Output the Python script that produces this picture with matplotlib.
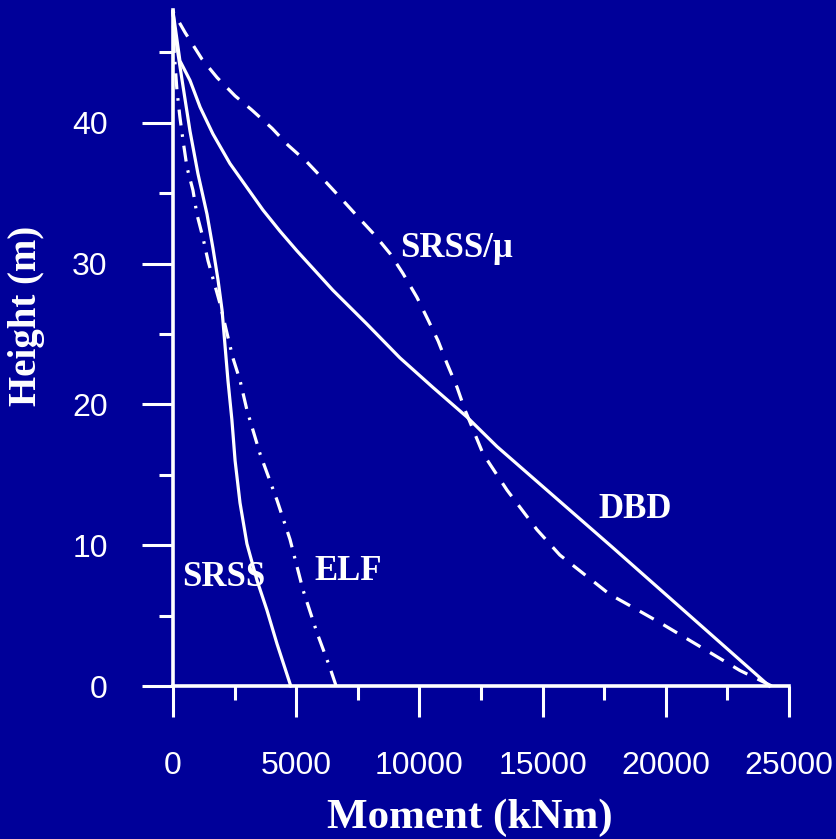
import matplotlib.pyplot as plt

# 弯矩沿高度分布 (kNm, m)
h_dbd = [0, 9.9, 17.0, 19.1, 21.2, 23.3, 25.7, 28.1, 30.9, 32.3, 33.8,
         35.4, 37.1, 39.2, 41.1, 43.0, 44.4, 47.9]
m_dbd = [24200, 17800, 13150, 11930, 10550, 9210, 7870, 6490, 5030,
         4340, 3650, 3000, 2310, 1620, 1100, 690, 280, 0]

h_mu = [0, 1.1, 2.8, 4.5, 5.7, 6.5, 9.3, 11.1, 13.9, 16.5, 18.2, 19.6, 21.2,
        22.9, 24.5, 26.0, 27.6, 29.3, 30.7, 32.0, 33.3, 34.7, 36.0, 37.2, 38.4,
        39.6, 40.9, 41.9, 43.2, 44.5, 46.4, 47.9]
m_mu = [24300, 23010, 21390, 19760, 18550, 17730, 15700, 14770, 13560, 12580,
        12180, 11850, 11530, 11120, 10760, 10350, 9900, 9330, 8810, 8200, 7510,
        6780, 6090, 5440, 4670, 4020, 3200, 2520, 1790, 1180, 490, 0]

h_srss = [0, 3.0, 5.4, 7.5, 10.1, 13.0, 16.0, 18.9, 21.7, 26.7, 28.8, 31.1,
          33.5, 36.4, 39.4, 43.0, 46.3, 47.9]
m_srss = [4780, 4220, 3810, 3410, 3000, 2720, 2520, 2390, 2230, 1990, 1830,
          1620, 1380, 1010, 690, 370, 80, 0]

h_elf = [0, 1.3, 3.8, 6.8, 10.4, 13.2, 16.5, 19.6, 21.7, 23.3, 27.2, 30.2,
         31.8, 33.5, 35.2, 36.8, 38.7, 40.4, 42.3, 45.0, 47.9]
m_elf = [6620, 6370, 5840, 5280, 4750, 4220, 3530, 3000, 2720, 2430, 1900,
         1420, 1220, 970, 810, 570, 410, 280, 160, 50, 0]

labels = ['SRSS/\u03bc', 'DBD', 'SRSS', 'ELF']
label_m = [9210, 17250, 370, 5760]
label_h = [31.1, 12.5, 7.7, 8.1]

bg = '#000099'
fig = plt.figure(figsize=(8.37, 8.39), dpi=100, facecolor=bg)
ax = fig.add_axes([173/837, 1-686/839, 616/837, 676/839], facecolor=bg)

lw = 2.3
ax.plot(m_dbd, h_dbd, color='white', lw=lw, clip_on=False)
ax.plot(m_mu, h_mu, color='white', lw=lw, dashes=(5, 3.5), clip_on=False)
ax.plot(m_srss, h_srss, color='white', lw=lw, clip_on=False)
ax.plot(m_elf, h_elf, color='white', lw=lw, dashes=(5, 2.8, 0.8, 2.8), clip_on=False)

for t, m, h in zip(labels, label_m, label_h):
    ax.text(m, h, t, color='white', fontsize=25, fontweight='bold',
            family='Liberation Serif', ha='left', va='center')

ax.set_xlim(0, 25000)
ax.set_ylim(0, 48)
ax.set_xticks(range(0, 25001, 5000))
ax.set_xticks(range(2500, 25000, 5000), minor=True)
ax.set_yticks(range(0, 41, 10))
ax.set_yticks(range(5, 48, 10), minor=True)

for s in ['top', 'right']:
    ax.spines[s].set_visible(False)
for s in ['left', 'bottom']:
    ax.spines[s].set_color('white')
    ax.spines[s].set_linewidth(2.6)

ax.tick_params(which='major', length=22, width=2.2, color='white', pad=25,
               labelsize=23, labelcolor='white')
ax.tick_params(which='minor', length=10, width=2.2, color='white')
for lab in ax.get_xticklabels() + ax.get_yticklabels():
    lab.set_family('Liberation Sans')

ax.set_xlabel('Moment (kNm)', fontsize=31, fontweight='bold',
              family='Liberation Serif', color='white')
ax.set_ylabel('Height (m)', fontsize=28, fontweight='bold',
              family='Liberation Serif', color='white')
ax.xaxis.set_label_coords(0.482, -0.167)
ax.yaxis.set_label_coords(-0.208, 0.547)

fig.savefig('out.png', dpi=100, facecolor=bg)
